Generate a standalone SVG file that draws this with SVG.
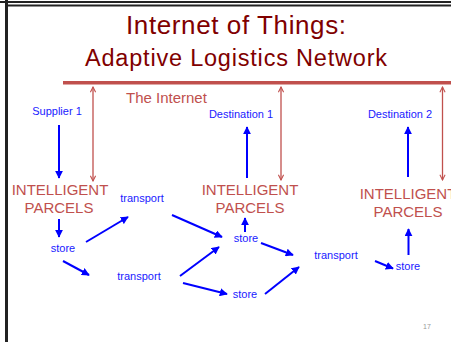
<svg xmlns="http://www.w3.org/2000/svg" width="451" height="342" viewBox="0 0 451 342">
<style>
.title{font-family:"Liberation Sans",Arial,sans-serif;fill:#800000;text-anchor:middle}
.red{font-family:"Liberation Sans",Arial,sans-serif;fill:#C0504D;font-size:15px;text-anchor:middle}
.blue{font-family:"Liberation Sans",Arial,sans-serif;fill:#1a1aff;font-size:11px;text-anchor:middle}
.ba{stroke:#0000ff;stroke-width:2;fill:none;marker-end:url(#bh)}
.ra{stroke:#C0504D;stroke-width:1.3;fill:none;marker-start:url(#rh);marker-end:url(#rh)}
</style>
<defs>
<marker id="bh" viewBox="0 0 10 10" refX="9" refY="5" markerWidth="4" markerHeight="4" orient="auto" markerUnits="strokeWidth">
<path d="M0,0 L10,5 L0,10 z" fill="#0000ff"/>
</marker>
<marker id="rh" viewBox="0 0 10 10" refX="9" refY="5" markerWidth="5" markerHeight="5" orient="auto-start-reverse" markerUnits="strokeWidth">
<path d="M1,1 L9,5 L1,9" fill="none" stroke="#C0504D" stroke-width="1.6"/>
</marker>
</defs>
<rect width="451" height="342" fill="#fff"/>
<g id="frame" fill="#222">
<rect x="0" y="1" width="451" height="2"/>
<rect x="7" y="4.5" width="444" height="2"/>
<rect x="5" y="0" width="3" height="342"/>
</g>
<g id="title">
<text class="title" x="236" y="34" font-size="26" textLength="220">Internet of Things:</text>
<text class="title" x="236" y="66" font-size="23.5" textLength="302">Adaptive Logistics Network</text>
</g>
<g id="internet">
<rect x="63" y="81" width="388" height="3.5" fill="#C0504D"/>
<text class="red" x="126" y="103" style="text-anchor:start">The Internet</text>
</g>
<g id="supplier1"><text class="blue" x="57" y="115">Supplier 1</text></g>
<g id="destination1"><text class="blue" x="241" y="118">Destination 1</text></g>
<g id="destination2"><text class="blue" x="400" y="118">Destination 2</text></g>
<g id="parcels1"><text class="red" x="60" y="195">INTELLIGENT</text><text class="red" x="59" y="212.5">PARCELS</text></g>
<g id="parcels2"><text class="red" x="250" y="195">INTELLIGENT</text><text class="red" x="250" y="212.5">PARCELS</text></g>
<g id="parcels3"><text class="red" x="408" y="199">INTELLIGENT</text><text class="red" x="408" y="217">PARCELS</text></g>
<g id="transport1"><text class="blue" x="142" y="202">transport</text></g>
<g id="store1"><text class="blue" x="63" y="252">store</text></g>
<g id="transport2"><text class="blue" x="139" y="280">transport</text></g>
<g id="store2"><text class="blue" x="246" y="242">store</text></g>
<g id="store3"><text class="blue" x="245" y="298">store</text></g>
<g id="transport3"><text class="blue" x="336" y="259">transport</text></g>
<g id="store4"><text class="blue" x="408" y="270">store</text></g>
<g id="page"><text x="427" y="329" font-family="Liberation Sans,Arial,sans-serif" font-size="7" fill="#999" text-anchor="middle">17</text></g>
<g id="connectors">
<line class="ra" x1="93" y1="87" x2="93" y2="181"/>
<line class="ra" x1="281" y1="87" x2="281" y2="180"/>
<line class="ra" x1="442.5" y1="87" x2="442.5" y2="180"/>
<line class="ba" x1="59" y1="125" x2="59" y2="178"/>
<line class="ba" x1="247" y1="178" x2="247" y2="127"/>
<line class="ba" x1="408" y1="177" x2="408" y2="127"/>
<line class="ba" x1="59" y1="219" x2="59" y2="237"/>
<line class="ba" x1="86" y1="242" x2="128" y2="217"/>
<line class="ba" x1="63" y1="261" x2="89" y2="275"/>
<line class="ba" x1="172" y1="215" x2="222" y2="237"/>
<line class="ba" x1="180" y1="276" x2="219" y2="247"/>
<line class="ba" x1="183" y1="283" x2="227" y2="294"/>
<line class="ba" x1="245" y1="232" x2="245" y2="218"/>
<line class="ba" x1="261" y1="243" x2="293" y2="255"/>
<line class="ba" x1="265" y1="294" x2="299" y2="267"/>
<line class="ba" x1="375" y1="261" x2="393" y2="268.5"/>
<line class="ba" x1="408.5" y1="255" x2="408.5" y2="229"/>
</g>
</svg>
